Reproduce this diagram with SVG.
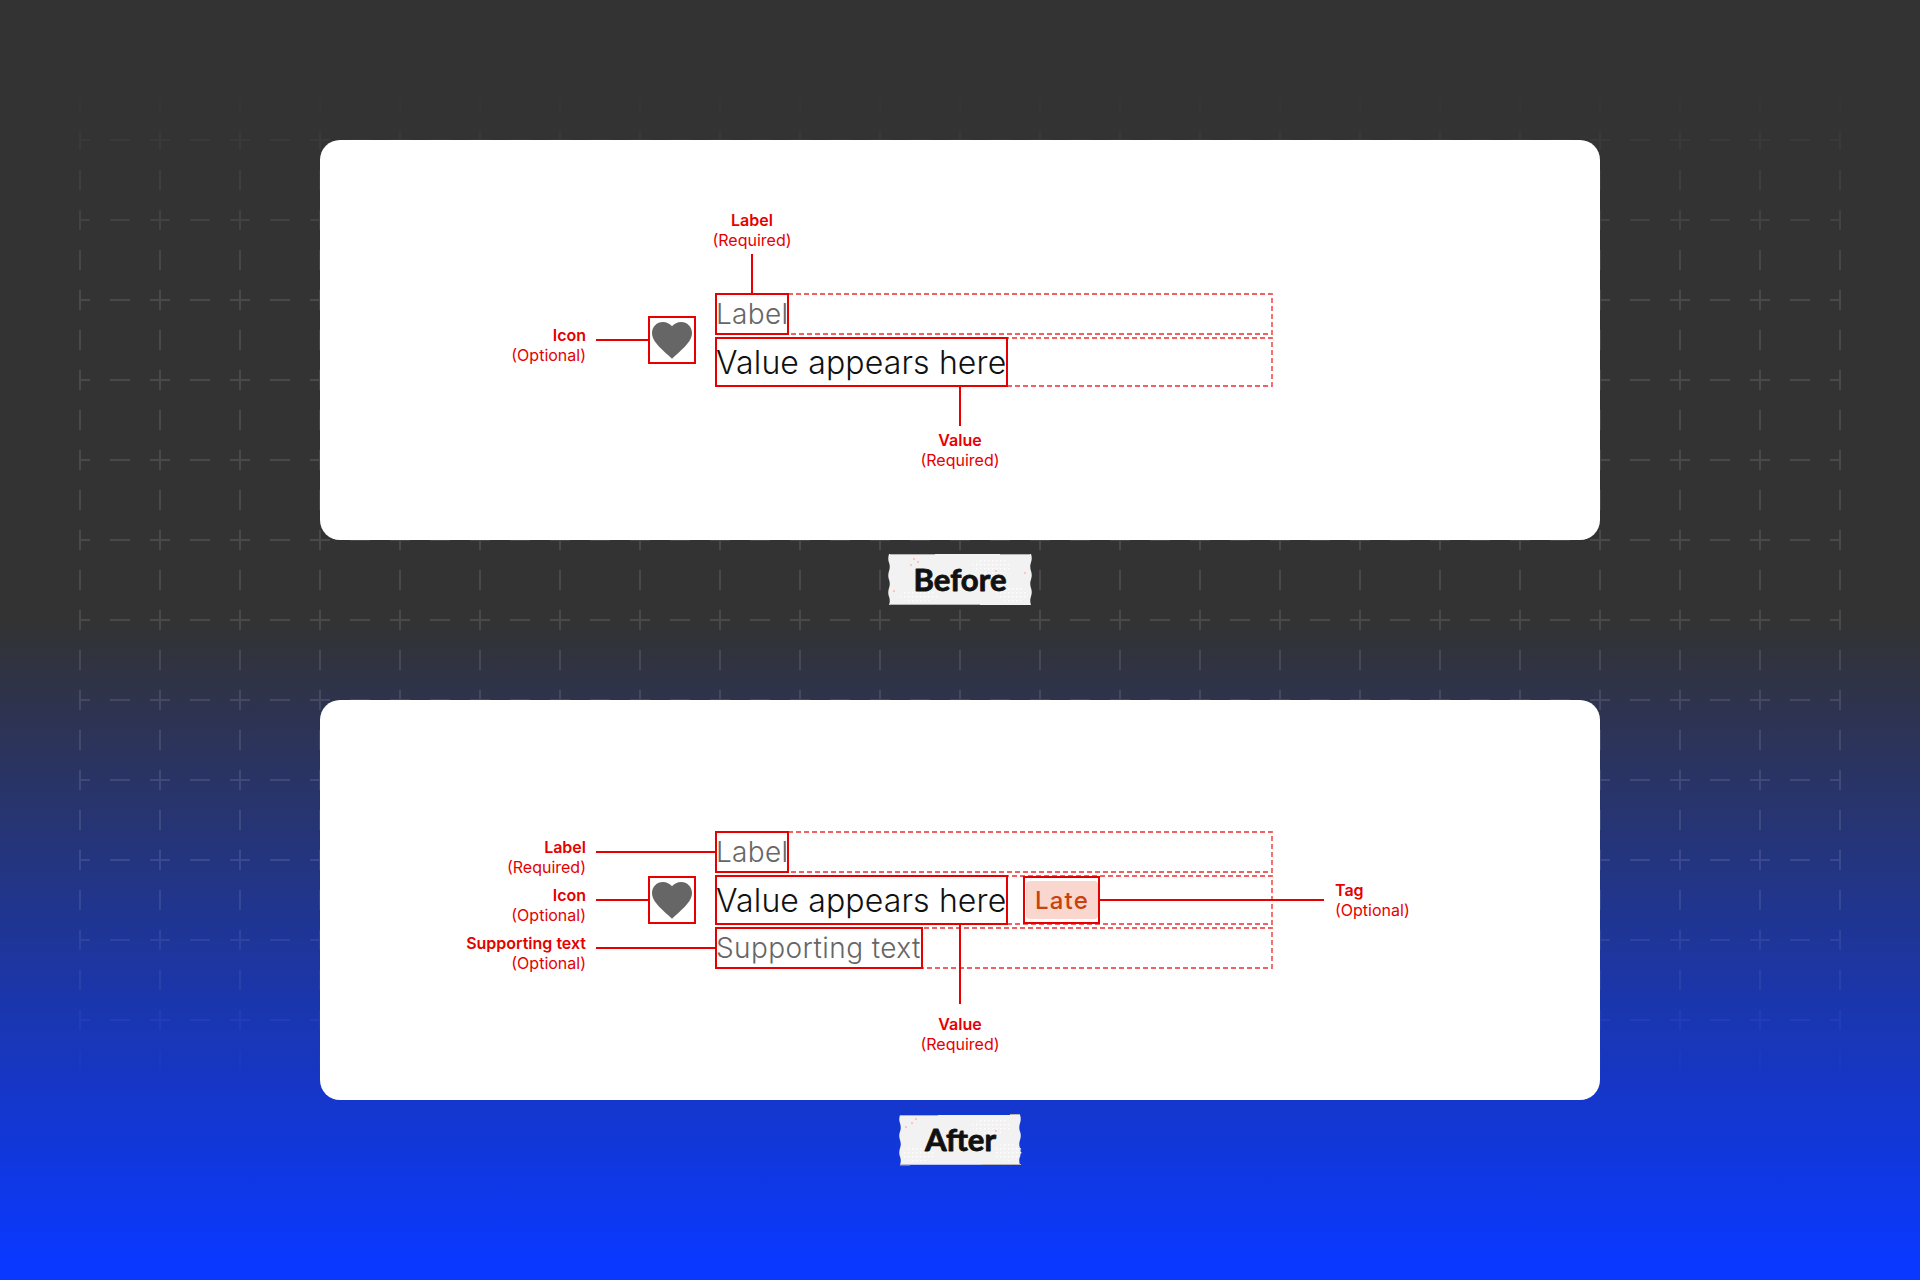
<svg xmlns="http://www.w3.org/2000/svg" width="1920" height="1280" viewBox="0 0 1920 1280">
<style>
.an{font-family:Inter,"Liberation Sans",sans-serif;font-size:16px;fill:#e60000}
.b{font-weight:600}
.r{text-anchor:end}.m{text-anchor:middle}
.box{fill:none;stroke:#e60000;stroke-width:2}
.slot{fill:none;stroke:#e60000;stroke-opacity:.62;stroke-width:1.8;stroke-dasharray:5 3}
.lead{fill:none;stroke:#e60000;stroke-width:2}
.lab{font-family:Inter,"Liberation Sans",sans-serif;font-size:28px;fill:#666;font-weight:300;letter-spacing:.3px}
.val{font-family:Inter,"Liberation Sans",sans-serif;font-size:32px;fill:#111;font-weight:300;letter-spacing:.14px}
.sup{font-family:Inter,"Liberation Sans",sans-serif;font-size:28px;fill:#666;font-weight:300;letter-spacing:.42px}
.tagt{font-family:Inter,"Liberation Sans",sans-serif;font-size:24px;font-weight:500;fill:#c8420f;letter-spacing:1.2px;text-anchor:middle}
.hand{font-family:Lato,"Liberation Sans",sans-serif;font-size:30px;font-weight:700;fill:#111;stroke:#111;stroke-width:.8;stroke-linejoin:round;text-anchor:middle}
.paper{fill:#f2f2f2}
.panel{fill:#fff}
.heart{fill:#666}
.edge{stroke:#b5b5b5;stroke-width:1.2;fill:none}
.peach{fill:#f9c9b8}
</style>
<defs>
<linearGradient id="bg" gradientUnits="userSpaceOnUse" x1="0" y1="620" x2="0" y2="1262">
<stop offset="0" stop-color="#333333"/><stop offset="1" stop-color="#0a38ff"/>
</linearGradient>
<linearGradient id="fade" gradientUnits="userSpaceOnUse" x1="0" y1="80" x2="0" y2="1110">
<stop offset="0" stop-color="#fff" stop-opacity="0"/>
<stop offset=".2" stop-color="#fff" stop-opacity="1"/>
<stop offset=".75" stop-color="#fff" stop-opacity="1"/>
<stop offset="1" stop-color="#fff" stop-opacity="0"/>
</linearGradient>
<mask id="gridmask" maskUnits="userSpaceOnUse" x="0" y="0" width="1920" height="1280"><rect x="0" y="0" width="1920" height="1280" fill="url(#fade)"/></mask>
<pattern id="cross" patternUnits="userSpaceOnUse" x="40" y="100" width="80" height="80">
<path d="M40 0V10M40 30V50M40 70V80M30 40H50M70 40H80M0 40H10" stroke="#fff" stroke-opacity=".11" stroke-width="2" fill="none"/>
</pattern>
<pattern id="spk" patternUnits="userSpaceOnUse" width="4" height="4"><rect width="1.4" height="1.4" fill="#fff"/></pattern>
<path id="hp" d="M12 21.35l-1.45-1.32C5.4 15.36 2 12.28 2 8.5 2 5.42 4.42 3 7.5 3c1.74 0 3.41.81 4.5 2.09C13.09 3.81 14.76 3 16.5 3 19.58 3 22 5.42 22 8.5c0 3.78-3.4 6.86-8.55 11.54L12 21.35z"/>
</defs>

<rect id="background" width="1920" height="1280" fill="url(#bg)"/>
<rect id="grid" x="79" y="80" width="1762" height="1040" fill="url(#cross)" mask="url(#gridmask)"/>

<rect id="panel-before" class="panel" x="320" y="140" width="1280" height="400" rx="20"/>
<rect id="panel-after" class="panel" x="320" y="700" width="1280" height="400" rx="20"/>

<g id="connectors">
<path class="lead" d="M752 254V294"/>
<path class="lead" d="M596 340H649"/>
<path class="lead" d="M960 386V426"/>
<path class="lead" d="M596 852H716"/>
<path class="lead" d="M596 900H649"/>
<path class="lead" d="M596 948H716"/>
<path class="lead" d="M960 924V1004"/>
<path class="lead" d="M1099 900H1324"/>
</g>

<g id="before-label">
<rect class="slot" x="716" y="294" width="556" height="40"/>
<text class="lab" x="716" y="324">Label</text>
<rect class="box" x="716" y="294" width="72" height="40"/>
</g>
<g id="before-value">
<rect class="slot" x="716" y="338" width="556" height="48"/>
<text class="val" x="716" y="374">Value appears here</text>
<rect class="box" x="716" y="338" width="291" height="48"/>
</g>
<g id="before-icon">
<use class="heart" href="#hp" transform="translate(648 316) scale(2)"/>
<rect class="box" x="649" y="317" width="46" height="46"/>
</g>
<g id="before-note-label"><text class="an b m" x="752" y="226">Label</text><text class="an m" x="752" y="246">(Required)</text></g>
<g id="before-note-icon"><text class="an b r" x="586" y="341">Icon</text><text class="an r" x="586" y="361">(Optional)</text></g>
<g id="before-note-value"><text class="an b m" x="960" y="446">Value</text><text class="an m" x="960" y="466">(Required)</text></g>

<g id="after-label">
<rect class="slot" x="716" y="832" width="556" height="40"/>
<text class="lab" x="716" y="862">Label</text>
<rect class="box" x="716" y="832" width="72" height="40"/>
</g>
<g id="after-value">
<rect class="slot" x="716" y="876" width="556" height="48"/>
<text class="val" x="716" y="912">Value appears here</text>
<rect class="box" x="716" y="876" width="291" height="48"/>
</g>
<g id="after-supporting">
<rect class="slot" x="716" y="928" width="556" height="40"/>
<text class="sup" x="716" y="958">Supporting text</text>
<rect class="box" x="716" y="928" width="206" height="40"/>
</g>
<g id="after-icon">
<use class="heart" href="#hp" transform="translate(648 876) scale(2)"/>
<rect class="box" x="649" y="877" width="46" height="46"/>
</g>
<g id="after-tag">
<rect x="1026" y="881" width="72" height="38" rx="4" fill="#f9d6ce"/>
<text class="tagt" x="1062" y="909">Late</text>
<rect class="box" x="1024" y="877" width="75" height="46"/>
</g>
<g id="after-note-label"><text class="an b r" x="586" y="853">Label</text><text class="an r" x="586" y="873">(Required)</text></g>
<g id="after-note-icon"><text class="an b r" x="586" y="901">Icon</text><text class="an r" x="586" y="921">(Optional)</text></g>
<g id="after-note-supporting"><text class="an b r" x="586" y="949">Supporting text</text><text class="an r" x="586" y="969">(Optional)</text></g>
<g id="after-note-value"><text class="an b m" x="960" y="1030">Value</text><text class="an m" x="960" y="1050">(Required)</text></g>
<g id="after-note-tag"><text class="an b" x="1335" y="896">Tag</text><text class="an" x="1335" y="916">(Optional)</text></g>

<g id="badge-before">
<path class="paper" d="M888 554H1031q1.500 4 0 8.500q-1.500 4 0 8.500q1.500 4 0 8.500q-1.500 4 0 8.500q1.500 4 0 8.500q-1.500 4 0 8.500H889q1.500-4 0-8.500q-1.500-4 0-8.500q1.500-4 0-8.500q-1.500-4 0-8.500q1.500-4 0-8.500q-1.500-4 0-8.500z"/>
<ellipse cx="992" cy="566" rx="20" ry="8" fill="url(#spk)"/>
<ellipse cx="1012" cy="594" rx="16" ry="8" fill="url(#spk)"/>
<ellipse cx="918" cy="596" rx="20" ry="6" fill="url(#spk)"/>
<path class="peach" d="M913 558h2v2h-2zM917 561h2v2h-2zM910 564h2v2h-2zM995 570h2v2h-2zM1024 572h2v2h-2zM893 590h2v2h-2z"/>
<path class="edge" d="M890 604.500H980M1000 554.500H1030M890 554.500H935"/>
<text class="hand" x="960" y="591" textLength="93" lengthAdjust="spacingAndGlyphs">Before</text>
</g>
<g id="badge-after">
<path class="paper" d="M899 1115H1020q1.500 4 0 8.300q-1.500 4 0 8.300q1.500 4 0 8.300q-1.500 4 0 8.300q1.500 4 0 8.300q-1.500 4 0 8.300H900q1.500-4 0-8.300q-1.500-4 0-8.300q1.500-4 0-8.300q-1.500-4 0-8.300q1.500-4 0-8.300q-1.500-4 0-8.300z"/>
<ellipse cx="992" cy="1126" rx="20" ry="8" fill="url(#spk)"/>
<ellipse cx="1008" cy="1152" rx="14" ry="9" fill="url(#spk)"/>
<ellipse cx="918" cy="1154" rx="16" ry="8" fill="url(#spk)"/>
<path class="peach" d="M915 1118h2v2h-2zM911 1122h2v2h-2zM905 1126h2v2h-2zM995 1130h2v2h-2z"/>
<path class="edge" d="M900 1115.500H938M1010 1114.500H1020M982 1164.500H1021M900 1165H910"/>
<text class="hand" x="960.500" y="1151" textLength="71" lengthAdjust="spacingAndGlyphs">After</text>
</g>
</svg>
